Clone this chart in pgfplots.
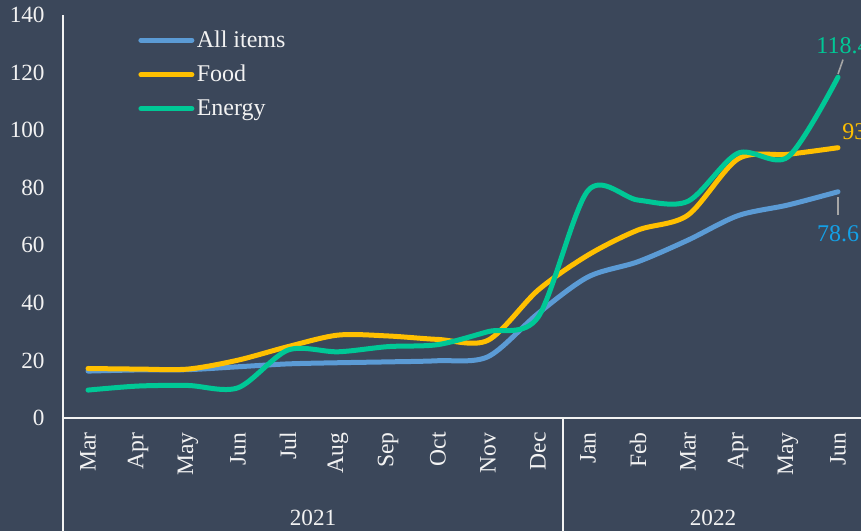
\documentclass[border=0pt]{standalone}
\usepackage{fontspec}
\setmainfont{Liberation Serif}
\usepackage{pgfplots}
\pgfplotsset{compat=1.18}

\definecolor{bg}{RGB}{59,71,90}
\definecolor{allc}{RGB}{91,155,213}
\definecolor{foodc}{RGB}{255,192,0}
\definecolor{enec}{RGB}{0,200,150}
\definecolor{lblblue}{RGB}{20,160,230}
\definecolor{txt}{RGB}{242,242,242}

\begin{document}
\begin{tikzpicture}
  % 1 px of the reference = 0.5pt
  \fill[bg] (0,0) rectangle (430.5pt,265.5pt);
  \clip (0,0) rectangle (430.5pt,265.5pt);
  \begin{axis}[
      at={(31.5pt,56.5pt)}, anchor=south west,
      scale only axis,
      width=400pt, height=201.5pt,
      xmin=-0.5, xmax=15.5,
      ymin=0, ymax=140,
      clip=false,
      axis lines=left,
      axis line style={draw=txt, line width=1pt, -},
      major tick length=0pt,
      ytick={0,20,...,140},
      xtick={0,...,15},
      xticklabels={Mar,Apr,May,Jun,Jul,Aug,Sep,Oct,Nov,Dec,Jan,Feb,Mar,Apr,May,Jun},
      xticklabel style={rotate=90, anchor=east, inner xsep=7pt, font=\fontsize{11.8}{13}\selectfont},
      yticklabel style={inner xsep=9pt, font=\fontsize{11.6}{13}\selectfont},
      ticklabel style={text=txt},
      /pgf/number format/assume math mode=true,
      every axis plot/.append style={line width=2.5pt, smooth, tension=0.5, line cap=round},
      legend image code/.code={\draw[#1, line cap=round] (0pt,0pt) -- (25.5pt,0pt);},
      legend style={at={(axis cs:0.88,137)}, anchor=north west, draw=none, fill=none,
        font=\fontsize{12}{14}\selectfont, text=txt, row sep=5pt,
        nodes={inner sep=1.2pt}},
      legend cell align=left,
    ]
    \addplot[allc] coordinates {
      (0,16.3)(1,16.7)(2,16.8)(3,17.8)(4,18.8)(5,19.2)(6,19.5)(7,19.9)
      (8,21.3)(9,36.3)(10,49)(11,54.3)(12,61.8)(13,70.3)(14,74)(15,78.6)};
    \addlegendentry{All items}
    \addplot[foodc] coordinates {
      (0,17.2)(1,17)(2,17)(3,20.1)(4,24.8)(5,28.8)(6,28.5)(7,27.3)
      (8,27)(9,44.4)(10,56.6)(11,65.3)(12,70.5)(13,90)(14,91.6)(15,93.9)};
    \addlegendentry{Food}
    \addplot[enec] coordinates {
      (0,9.7)(1,11.1)(2,11.3)(3,10.5)(4,23.6)(5,23)(6,24.8)(7,25.5)
      (8,30)(9,35)(10,79)(11,75.7)(12,75.3)(13,92)(14,90.7)(15,118.4)};
    \addlegendentry{Energy}

    % value labels
    \draw[gray!70, line width=0.8pt] (axis cs:15,119.5) -- (axis cs:15.1,124.5);
    \node[text=enec, font=\fontsize{12}{14}\selectfont] at (axis cs:15.1,129.2) {118.4};
    \node[text=foodc, font=\fontsize{12}{14}\selectfont, anchor=west, inner sep=0pt] at (axis cs:15.08,99.3) {93.9};
    \draw[gray!70, line width=0.8pt] (axis cs:15,76.7) -- (axis cs:15,70.5);
    \node[text=lblblue, font=\fontsize{12}{14}\selectfont] at (axis cs:15,64.2) {78.6};

    % category axis groups
    \draw[txt, line width=1pt] (axis cs:-0.5,0) -- (axis cs:-0.5,-40);
    \draw[txt, line width=1pt] (axis cs:9.5,0) -- (axis cs:9.5,-40);
    \draw[txt, line width=1pt] (axis cs:15.5,0) -- (axis cs:15.5,-40);
    \node[text=txt, font=\fontsize{11.6}{13}\selectfont] at (axis cs:4.5,-34.7) {2021};
    \node[text=txt, font=\fontsize{11.6}{13}\selectfont] at (axis cs:12.5,-34.7) {2022};
  \end{axis}
\end{tikzpicture}
\end{document}
